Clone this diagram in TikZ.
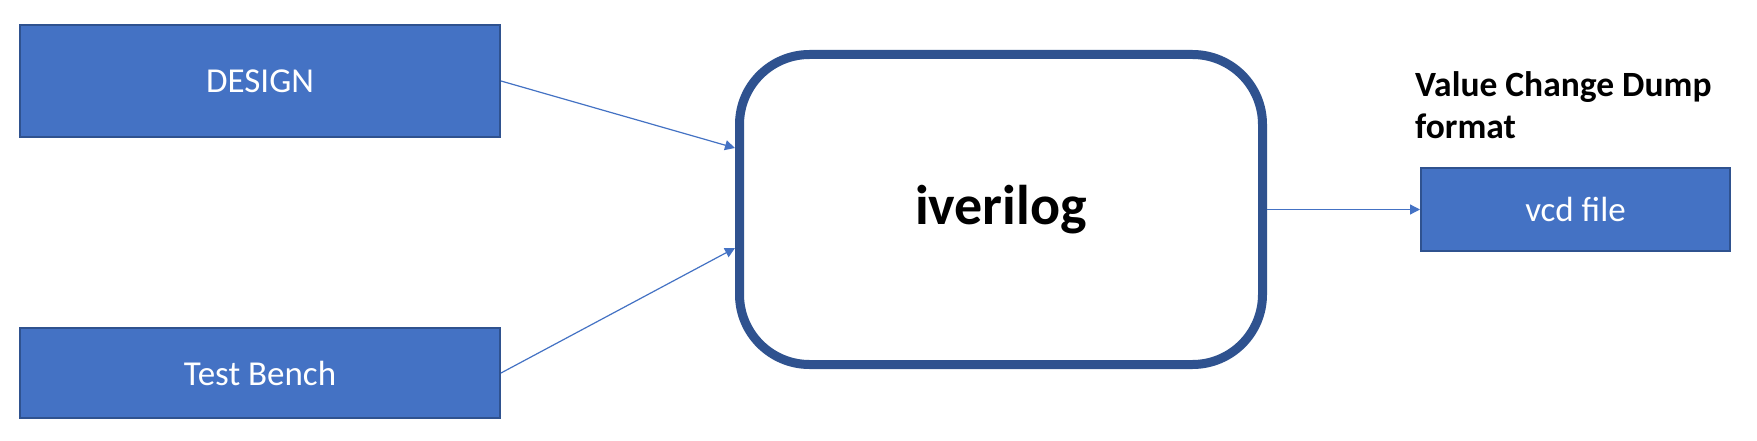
\documentclass[tikz,border=0pt]{standalone}
\usepackage{fontspec}
\setmainfont{Carlito}
\usetikzlibrary{arrows.meta}
\definecolor{officeblue}{HTML}{4472C4}
\definecolor{darkblue}{HTML}{2F528F}
\begin{document}
\begin{tikzpicture}[x=1pt,y=-1pt,
  bluebox/.style={draw=darkblue, line width=2pt, fill=officeblue, text=white,
    font=\fontsize{35}{42}\selectfont, inner sep=0pt},
  toolbox/.style={draw=darkblue, line width=9pt, fill=white, rounded corners=70pt,
    font=\bfseries\fontsize{56}{62}\selectfont, inner sep=0pt},
  conn/.style={draw=officeblue, line width=1.2pt, -{Triangle[length=10pt,width=10pt]}},
  lbl/.style={font=\bfseries\fontsize{35.5}{40}\selectfont, inner sep=0pt, anchor=base west},
]
\useasboundingbox[fill=white] (0,0) rectangle (1757,441);
\node[bluebox, minimum width=480pt, minimum height=112pt] (design) at (260,81) {DESIGN};
\node[bluebox, minimum width=480pt, minimum height=90pt] (bench) at (260,373) {Test Bench};
\node[toolbox, minimum width=523pt, minimum height=310pt] (iv) at (1001,209.5) {iverilog};
\node[bluebox, minimum width=309pt, minimum height=83pt] (vcd) at (1575.5,209.5) {vcd file};
\node[lbl] (lbla) at (1415,97) {Value Change Dump};
\node[lbl] (lblb) at (1415,139) {format};
\draw[conn] (design.east) -- ([yshift=61.5pt]iv.west);
\draw[conn] (bench.east) -- ([yshift=-38.5pt]iv.west);
\draw[conn] (iv.east) -- (vcd.west);
\end{tikzpicture}
\end{document}
